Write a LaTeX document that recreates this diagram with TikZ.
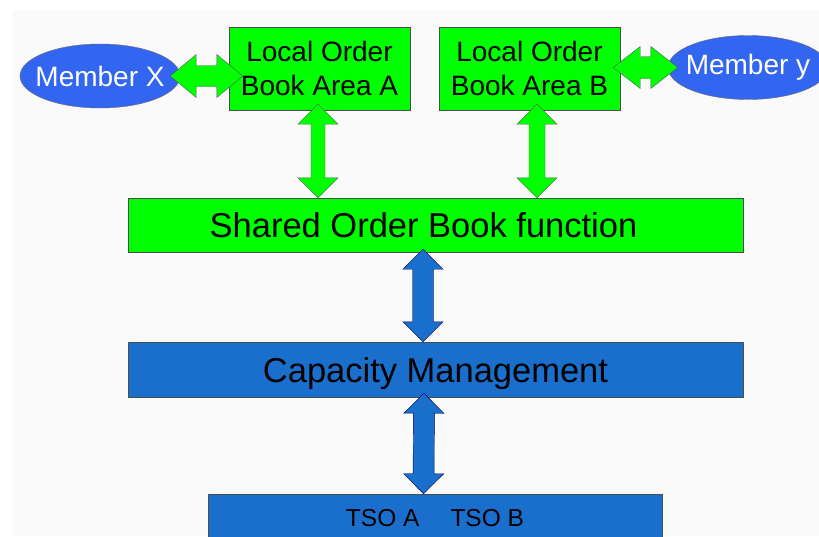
\documentclass[tikz,border=0pt]{standalone}
\usepackage{fontspec}
\setmainfont{Liberation Sans}
\usetikzlibrary{calc,shapes.geometric}
\definecolor{boxgreen}{HTML}{00FF00}
\definecolor{boxblue}{HTML}{1A6FCC}
\definecolor{memblue}{HTML}{3366F0}
\tikzset{
  local/.style = {draw=black!70, fill=boxgreen, inner sep=0pt,
    minimum width=181pt, minimum height=83pt, align=center,
    font=\fontsize{28}{34}\selectfont},
  member/.style = {ellipse, draw=black!60, fill=memblue, text=white, inner sep=0pt,
    inner xsep=-25pt, minimum width=160pt, minimum height=64pt,
    font=\fontsize{28}{32}\selectfont},
  layer/.style = {draw=black!70, inner sep=0pt, minimum width=615pt,
    minimum height=54pt, text depth=0pt, font=\fontsize{34.5}{40}\selectfont},
  bigarrow/.style n args = {3}{to path={
    -- ($(\tikztostart)!#3!(\tikztotarget)!#1!90:(\tikztotarget)$)
    -- ($(\tikztostart)!#3!(\tikztotarget)!#2!90:(\tikztotarget)$)
    -- ($(\tikztotarget)!#3!(\tikztostart)!#2!-90:(\tikztostart)$)
    -- ($(\tikztotarget)!#3!(\tikztostart)!#1!-90:(\tikztostart)$)
    -- (\tikztotarget)
    -- ($(\tikztotarget)!#3!(\tikztostart)!#1!90:(\tikztostart)$)
    -- ($(\tikztotarget)!#3!(\tikztostart)!#2!90:(\tikztostart)$)
    -- ($(\tikztostart)!#3!(\tikztotarget)!#2!-90:(\tikztotarget)$)
    -- ($(\tikztostart)!#3!(\tikztotarget)!#1!-90:(\tikztotarget)$)
    -- cycle}},
  greenarrow/.style = {draw=black!65, fill=boxgreen},
  bluearrow/.style = {draw=black!70!blue, fill=boxblue}
}

\begin{document}
\begin{tikzpicture}[x=1pt,y=-1pt]
  \useasboundingbox (0,0) rectangle (819,536);
  \fill[black!2] (12,10) rectangle (819,536);
  \node[local] (locA) at (319.5,68.5) {Local Order\\Book Area A};
  \node[local] (locB) at (529.5,68.5) {Local Order\\Book Area B};
  \node[member] (memX) at (100,76) {Member X};
  \node[member] (memY) at (748,67.5) {Member y};
  \node[layer,fill=boxgreen] (shared) at (435.5,225) {Shared Order Book function\hspace*{24pt}};
  \node[layer,fill=boxblue,minimum height=55pt] (cap) at (435.5,369.5) {Capacity Management};
  \node[layer,fill=boxblue,minimum width=454pt,minimum height=48pt,text depth=,
    font=\fontsize{24.5}{30}\selectfont] (tso) at (435,518) {TSO A\hspace{31pt}TSO B};
  \draw[greenarrow] ([xshift=-10pt]memX.east) to[bigarrow={21.5pt}{10.5pt}{26pt}] ([xshift=14pt]memX.east -| locA.west);
  \draw[greenarrow] ([xshift=-7pt]locB.east |- memY.west) to[bigarrow={21pt}{11pt}{27pt}] ([xshift=10pt]memY.west);
  \draw[greenarrow] ([xshift=-1.5pt,yshift=6pt]locA.south) to[bigarrow={20pt}{7pt}{20pt}] ([xshift=-1.5pt]locA.south |- shared.north);
  \draw[greenarrow] ([xshift=7.5pt,yshift=6pt]locB.south) to[bigarrow={20pt}{8pt}{20pt}] ([xshift=7.5pt]locB.south |- shared.north);
  \draw[bluearrow] ([xshift=-12.5pt,yshift=3pt]shared.south) to[bigarrow={20pt}{10.5pt}{20pt}] ([xshift=-12.5pt]cap.north);
  \draw[bluearrow] ([xshift=-11.5pt,yshift=4pt]cap.south) to[bigarrow={20pt}{10.5pt}{20pt}] ([xshift=-11.5pt]tso.north);
\end{tikzpicture}
\end{document}
